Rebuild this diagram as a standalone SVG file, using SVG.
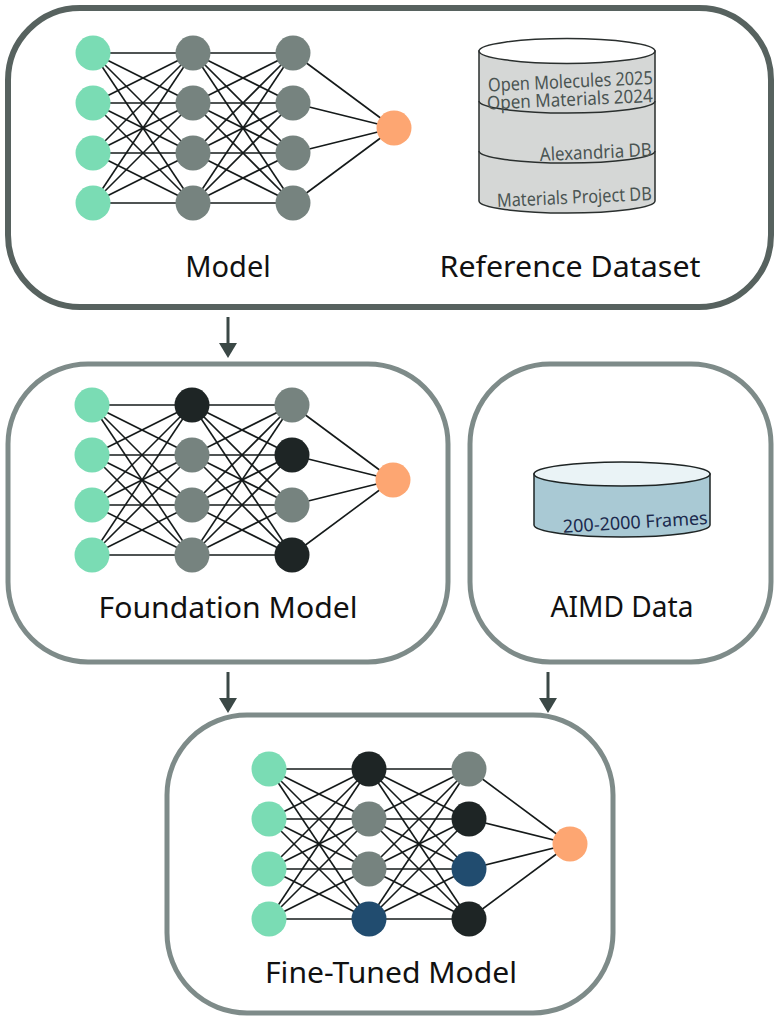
<svg xmlns="http://www.w3.org/2000/svg" xmlns:xlink="http://www.w3.org/1999/xlink" width="778" height="1021" viewBox="0 0 778 1021">
<style>
.box1{fill:#fff;stroke:#57625f;stroke-width:6}
.box2{fill:#fff;stroke:#7e8b89;stroke-width:5}
.e{stroke:#151a1a;stroke-width:1.6}
.g{fill:#7adcb4}
.m{fill:#76837f}
.k{fill:#1e2525}
.b{fill:#214c6f}
.o{fill:#fda672}
.lbl{font-family:"Noto Sans","Open Sans",sans-serif;font-size:29px;fill:#111;text-anchor:middle}
.db{font-family:"Noto Sans","Open Sans",sans-serif;font-size:18.5px;fill:#4a5452;text-anchor:end}
.arr{stroke:#3b4846;stroke-width:3;fill:none;marker-end:url(#ah)}
</style>
<defs>
<marker id="ah" viewBox="0 0 15 18" refX="5" refY="9" markerWidth="15" markerHeight="18" markerUnits="userSpaceOnUse" orient="auto">
<path d="M0,0 L15,9 L0,18 Z" fill="#3b4846"/>
</marker>
<g id="edges" class="e">
<line x1="0" y1="0" x2="100" y2="0"/><line x1="0" y1="0" x2="100" y2="50"/><line x1="0" y1="0" x2="100" y2="100"/><line x1="0" y1="0" x2="100" y2="150"/>
<line x1="0" y1="50" x2="100" y2="0"/><line x1="0" y1="50" x2="100" y2="50"/><line x1="0" y1="50" x2="100" y2="100"/><line x1="0" y1="50" x2="100" y2="150"/>
<line x1="0" y1="100" x2="100" y2="0"/><line x1="0" y1="100" x2="100" y2="50"/><line x1="0" y1="100" x2="100" y2="100"/><line x1="0" y1="100" x2="100" y2="150"/>
<line x1="0" y1="150" x2="100" y2="0"/><line x1="0" y1="150" x2="100" y2="50"/><line x1="0" y1="150" x2="100" y2="100"/><line x1="0" y1="150" x2="100" y2="150"/>
<line x1="100" y1="0" x2="200" y2="0"/><line x1="100" y1="0" x2="200" y2="50"/><line x1="100" y1="0" x2="200" y2="100"/><line x1="100" y1="0" x2="200" y2="150"/>
<line x1="100" y1="50" x2="200" y2="0"/><line x1="100" y1="50" x2="200" y2="50"/><line x1="100" y1="50" x2="200" y2="100"/><line x1="100" y1="50" x2="200" y2="150"/>
<line x1="100" y1="100" x2="200" y2="0"/><line x1="100" y1="100" x2="200" y2="50"/><line x1="100" y1="100" x2="200" y2="100"/><line x1="100" y1="100" x2="200" y2="150"/>
<line x1="100" y1="150" x2="200" y2="0"/><line x1="100" y1="150" x2="200" y2="50"/><line x1="100" y1="150" x2="200" y2="100"/><line x1="100" y1="150" x2="200" y2="150"/>
<line x1="200" y1="0" x2="301" y2="75"/><line x1="200" y1="50" x2="301" y2="75"/><line x1="200" y1="100" x2="301" y2="75"/><line x1="200" y1="150" x2="301" y2="75"/>
</g>
</defs>

<g id="reference-box">
<rect class="box1" x="8" y="8" width="763" height="299" rx="72" ry="72"/>
</g>

<g id="model">
<g transform="translate(93,53)">
<use xlink:href="#edges" href="#edges"/>
<circle class="g" cx="0" cy="0" r="17.5"/><circle class="g" cx="0" cy="50" r="17.5"/><circle class="g" cx="0" cy="100" r="17.5"/><circle class="g" cx="0" cy="150" r="17.5"/>
<circle class="m" cx="100" cy="0" r="17.5"/><circle class="m" cx="100" cy="50" r="17.5"/><circle class="m" cx="100" cy="100" r="17.5"/><circle class="m" cx="100" cy="150" r="17.5"/>
<circle class="m" cx="200" cy="0" r="17.5"/><circle class="m" cx="200" cy="50" r="17.5"/><circle class="m" cx="200" cy="100" r="17.5"/><circle class="m" cx="200" cy="150" r="17.5"/>
<circle class="o" cx="301" cy="75" r="17.5"/>
</g>
<text class="lbl" x="228" y="277">Model</text>
</g>

<g id="reference-dataset">
<path d="M479,51 L479,201 A88,12 0 0 0 655,201 L655,51 Z" fill="#d5d7d6" stroke="#2a2f2e" stroke-width="1.5"/>
<ellipse cx="567" cy="51" rx="88" ry="12.5" fill="#fff" stroke="#2a2f2e" stroke-width="1.5"/>
<path d="M479,101 A88,12 0 0 0 655,101 M479,151 A88,12 0 0 0 655,151" fill="none" stroke="#2a2f2e" stroke-width="1.5"/>
<text class="db" transform="translate(653,84) rotate(-2.6)" textLength="165" lengthAdjust="spacingAndGlyphs">Open Molecules 2025</text>
<text class="db" transform="translate(653,102) rotate(-2.6)" textLength="166" lengthAdjust="spacingAndGlyphs">Open Materials 2024</text>
<text class="db" transform="translate(652,156) rotate(-2.6)" textLength="112" lengthAdjust="spacingAndGlyphs">Alexandria DB</text>
<text class="db" transform="translate(652,200) rotate(-2.6)" textLength="155" lengthAdjust="spacingAndGlyphs">Materials Project DB</text>
<text class="lbl" x="570" y="277" textLength="261" lengthAdjust="spacingAndGlyphs">Reference Dataset</text>
</g>

<g id="foundation-model">
<rect class="box2" x="8" y="364" width="440" height="298" rx="80" ry="80"/>
<g transform="translate(92,405)">
<use xlink:href="#edges" href="#edges"/>
<circle class="g" cx="0" cy="0" r="17.5"/><circle class="g" cx="0" cy="50" r="17.5"/><circle class="g" cx="0" cy="100" r="17.5"/><circle class="g" cx="0" cy="150" r="17.5"/>
<circle class="k" cx="100" cy="0" r="17.5"/><circle class="m" cx="100" cy="50" r="17.5"/><circle class="m" cx="100" cy="100" r="17.5"/><circle class="m" cx="100" cy="150" r="17.5"/>
<circle class="m" cx="200" cy="0" r="17.5"/><circle class="k" cx="200" cy="50" r="17.5"/><circle class="m" cx="200" cy="100" r="17.5"/><circle class="k" cx="200" cy="150" r="17.5"/>
<circle class="o" cx="301" cy="75" r="17.5"/>
</g>
<text class="lbl" x="228" y="618" textLength="259" lengthAdjust="spacingAndGlyphs">Foundation Model</text>
</g>

<g id="aimd-data">
<rect class="box2" x="470" y="364" width="301" height="298" rx="80" ry="80"/>
<path d="M534,474 L534,525 A88,12 0 0 0 710,525 L710,474 Z" fill="#a9c9d4" stroke="#1e2424" stroke-width="1.5"/>
<ellipse cx="622" cy="474" rx="88" ry="12" fill="#eaf3f6" stroke="#1e2424" stroke-width="1.5"/>
<text transform="translate(708,524) rotate(-3.5)" font-family="Noto Sans, Open Sans, sans-serif" font-size="18px" fill="#1b2a4d" text-anchor="end" textLength="145" lengthAdjust="spacingAndGlyphs">200-2000 Frames</text>
<text class="lbl" x="622" y="617" textLength="143" lengthAdjust="spacingAndGlyphs">AIMD Data</text>
</g>

<g id="fine-tuned-model">
<rect class="box2" x="167" y="715" width="446" height="298" rx="80" ry="80"/>
<g transform="translate(269,769)">
<use xlink:href="#edges" href="#edges"/>
<circle class="g" cx="0" cy="0" r="17.5"/><circle class="g" cx="0" cy="50" r="17.5"/><circle class="g" cx="0" cy="100" r="17.5"/><circle class="g" cx="0" cy="150" r="17.5"/>
<circle class="k" cx="100" cy="0" r="17.5"/><circle class="m" cx="100" cy="50" r="17.5"/><circle class="m" cx="100" cy="100" r="17.5"/><circle class="b" cx="100" cy="150" r="17.5"/>
<circle class="m" cx="200" cy="0" r="17.5"/><circle class="k" cx="200" cy="50" r="17.5"/><circle class="b" cx="200" cy="100" r="17.5"/><circle class="k" cx="200" cy="150" r="17.5"/>
<circle class="o" cx="301" cy="75" r="17.5"/>
</g>
<text class="lbl" x="391" y="983" textLength="252" lengthAdjust="spacingAndGlyphs">Fine-Tuned Model</text>
</g>

<g id="connectors">
<line class="arr" x1="228" y1="317" x2="228" y2="348"/>
<line class="arr" x1="228" y1="672" x2="228" y2="703"/>
<line class="arr" x1="548" y1="672" x2="548" y2="703"/>
</g>
</svg>
